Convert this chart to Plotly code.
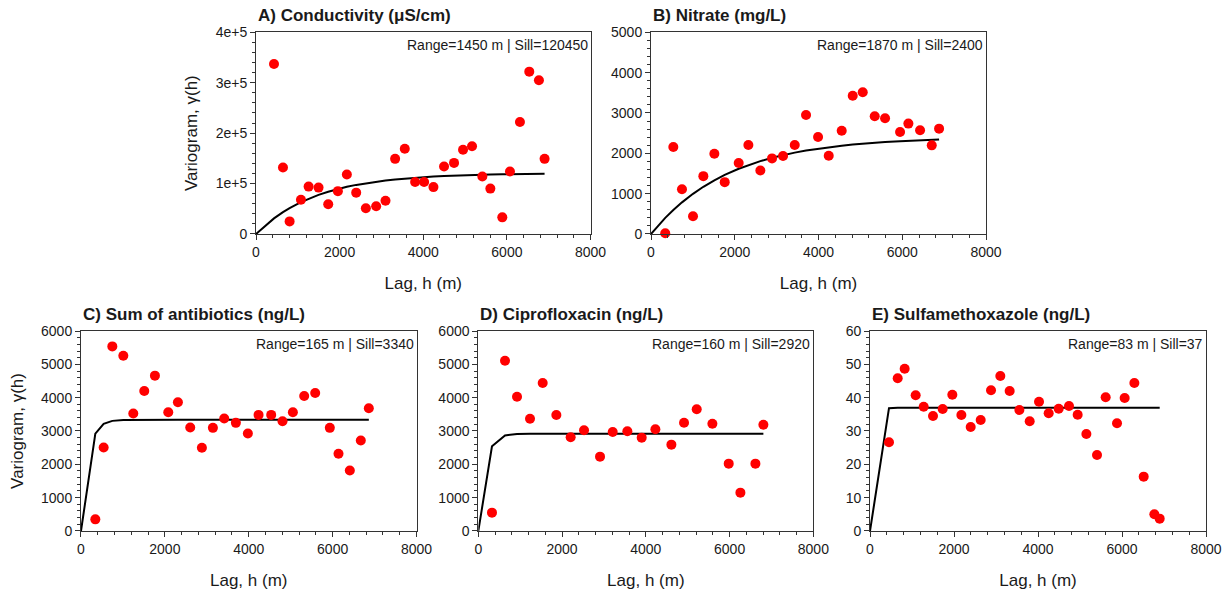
import numpy as np
import plotly.graph_objects as go

# ---------------- data ----------------
cond_lag = [430, 645, 804, 1075, 1258, 1496, 1727, 1958, 2173, 2396, 2627, 2874, 3097, 3327, 3558,
            3805, 4020, 4243, 4497, 4736, 4951, 5166, 5413, 5604, 5890, 6073, 6312, 6535, 6766, 6901]
cond_gamma = [337000, 132000, 25000, 68000, 94000, 92000, 59000, 85000, 118000, 82000, 51000, 55000,
              66000, 149000, 169000, 103000, 103000, 93000, 134000, 141000, 167000, 174000, 114000,
              90000, 33000, 124000, 222000, 322000, 305000, 149000]

nit_lag = [340, 533, 740, 1003, 1250, 1513, 1760, 2094, 2325, 2611, 2890, 3153, 3432, 3702, 3989,
           4244, 4554, 4817, 5056, 5342, 5589, 5947, 6146, 6425, 6704, 6879]
nit_gamma = [20, 2156, 1111, 440, 1434, 1990, 1285, 1758, 2206, 1575, 1874, 1932, 2206, 2952, 2405,
             1940, 2560, 3425, 3516, 2919, 2869, 2529, 2736, 2570, 2197, 2612]

ab_lag = [342, 540, 747, 1009, 1247, 1509, 1763, 2081, 2311, 2605, 2883, 3145, 3415, 3693, 3979,
          4234, 4535, 4805, 5052, 5322, 5584, 5933, 6140, 6410, 6672, 6863]
ab_gamma = [349, 2505, 5539, 5259, 3523, 4202, 4661, 3563, 3862, 3104, 2495, 3094, 3373, 3244, 2924,
            3483, 3483, 3293, 3563, 4052, 4142, 3094, 2315, 1816, 2715, 3683]

cip_lag = [326, 637, 924, 1234, 1537, 1863, 2205, 2524, 2906, 3209, 3559, 3901, 4228, 4610, 4912,
           5215, 5589, 5979, 6258, 6616, 6807]
cip_gamma = [550, 5110, 4030, 3370, 4440, 3480, 2810, 3020, 2230, 2970, 2990, 2800, 3050, 2590, 3250,
             3650, 3220, 2020, 1150, 2020, 3190]

smx_lag = [452, 659, 825, 1087, 1278, 1500, 1730, 1960, 2175, 2397, 2635, 2881, 3103, 3325, 3556,
           3802, 4024, 4254, 4492, 4738, 4944, 5151, 5405, 5611, 5881, 6063, 6294, 6516, 6770, 6897]
smx_gamma = [26.6, 45.8, 48.7, 40.7, 37.3, 34.5, 36.6, 40.9, 34.8, 31.2, 33.3, 42.2, 46.5, 42.0, 36.3,
             32.9, 38.8, 35.3, 36.7, 37.5, 34.9, 29.1, 22.8, 40.1, 32.3, 39.9, 44.4, 16.3, 5.0, 3.7]

titles = ["A) Conductivity (\u03bcS/cm)", "B) Nitrate (mg/L)", "C) Sum of antibiotics (ng/L)",
          "D) Ciprofloxacin (ng/L)", "E) Sulfamethoxazole (ng/L)"]
ranges_m = [1450, 1870, 165, 160, 83]
sills = [120450, 2400, 3340, 2920, 37]
y_max = [400000, 5000, 6000, 6000, 60]
y_dtick = [100000, 1000, 1000, 1000, 10]
y_minor = [20000, 200, 200, 200, 2]
cond_ticktext = ["0", "1e+5", "2e+5", "3e+5", "4e+5"]
x_ticks = [0, 2000, 4000, 6000, 8000]

lags = [cond_lag, nit_lag, ab_lag, cip_lag, smx_lag]
gammas = [cond_gamma, nit_gamma, ab_gamma, cip_gamma, smx_gamma]

# ---------------- layout ----------------
W, H = 1229, 596
domains = [
    ([0.2083, 0.4805], [0.6074, 0.9458]),
    ([0.5297, 0.8023], [0.6074, 0.9458]),
    ([0.0659, 0.3389], [0.1091, 0.4446]),
    ([0.3892, 0.6618], [0.1091, 0.4446]),
    ([0.7079, 0.9813], [0.1091, 0.4446]),
]
FONT = "Liberation Sans, Arial, sans-serif"
INK = "#1a1a1a"

fig = go.Figure()
annotations = []
for i in range(5):
    n = "" if i == 0 else str(i + 1)
    xa, ya = "x" + n, "y" + n
    # fitted exponential model evaluated at h=0 and at the lag centres
    h = np.array([0] + lags[i], dtype=float)
    model = sills[i] * (1 - np.exp(-h / ranges_m[i]))
    fig.add_trace(go.Scatter(x=h, y=model, mode="lines", line=dict(color="black", width=2),
                             xaxis=xa, yaxis=ya, showlegend=False, hoverinfo="skip"))
    fig.add_trace(go.Scatter(x=lags[i], y=gammas[i], mode="markers",
                             marker=dict(color="#ff0000", size=10, line=dict(width=0)),
                             xaxis=xa, yaxis=ya, showlegend=False, cliponaxis=False))
    common = dict(showline=True, linecolor="#333", linewidth=1, mirror=True, showgrid=False,
                  zeroline=False, ticks="outside", ticklen=5, tickcolor="#333", automargin=False,
                  tickfont=dict(family=FONT, size=14, color=INK))
    xaxis = dict(domain=domains[i][0], anchor=ya, range=[0, 8000], tickvals=x_ticks,
                 minor=dict(ticks="outside", dtick=400, tick0=0, ticklen=3, tickcolor="#333"),
                 title=dict(text="Lag, h (m)", font=dict(family=FONT, size=17, color=INK), standoff=18),
                 **common)
    yaxis = dict(domain=domains[i][1], anchor=xa, range=[0, y_max[i]],
                 tickvals=list(np.arange(0, y_max[i] + 1, y_dtick[i])),
                 minor=dict(ticks="outside", dtick=y_minor[i], tick0=0, ticklen=3, tickcolor="#333"),
                 **common)
    if i == 0:
        yaxis["ticktext"] = cond_ticktext
    if i in (0, 2):
        yaxis["title"] = dict(text="Variogram, \u03b3(h)", font=dict(family=FONT, size=17, color=INK),
                              standoff=13)
    fig.layout["xaxis" + n] = xaxis
    fig.layout["yaxis" + n] = yaxis
    # panel title
    annotations.append(dict(text="<b>" + titles[i] + "</b>", x=domains[i][0][0], y=domains[i][1][1],
                            xref="paper", yref="paper", xanchor="left", yanchor="bottom",
                            yshift=5, showarrow=False, font=dict(family=FONT, size=17, color=INK)))
    annotations.append(dict(text=f"Range={ranges_m[i]} m | Sill={sills[i]}",
                            x=domains[i][0][1], y=domains[i][1][1], xref="paper", yref="paper",
                            xanchor="right", yanchor="top", xshift=-1, yshift=-3, showarrow=False,
                            font=dict(family=FONT, size=14, color=INK)))

fig.update_layout(width=W, height=H, autosize=False, margin=dict(l=0, r=0, t=0, b=0),
                  paper_bgcolor="white", plot_bgcolor="white", annotations=annotations,
                  font=dict(family=FONT))
fig.write_html("out.html")
